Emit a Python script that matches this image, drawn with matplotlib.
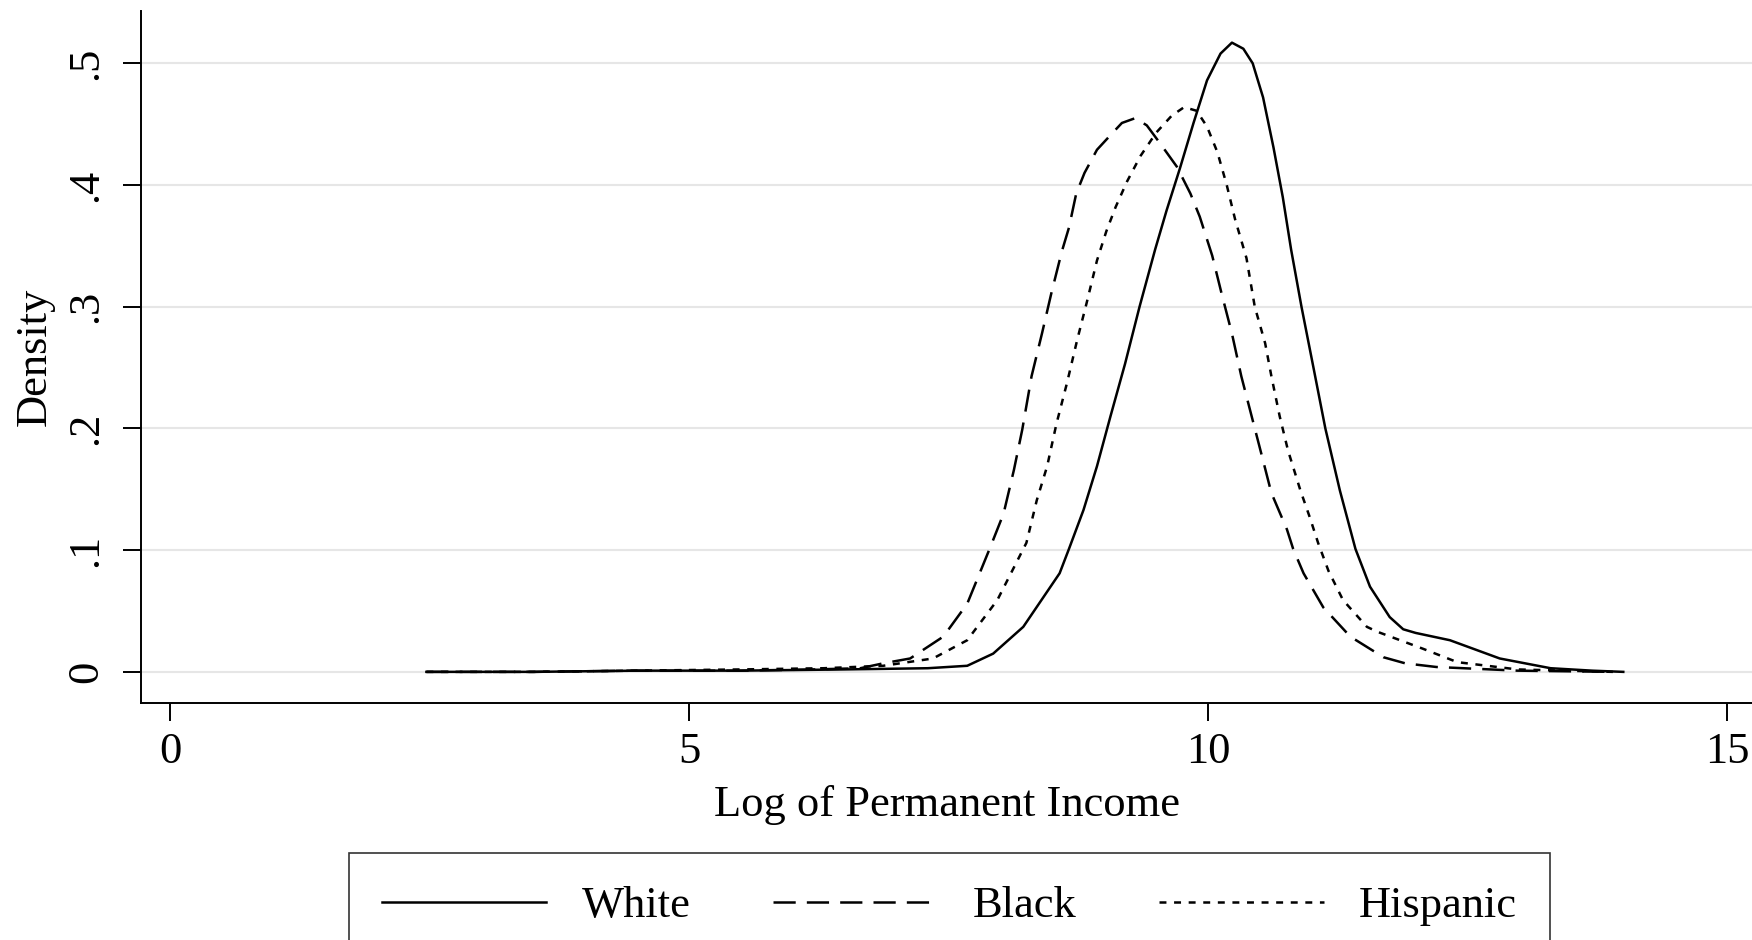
import matplotlib
matplotlib.use("Agg")
from matplotlib import pyplot as plt

plt.rcParams["font.family"] = ["Liberation Serif", "DejaVu Serif"]
plt.rcParams["lines.scale_dashes"] = False

# density curves
white_x = [2.47, 3.5, 4.5, 5.5, 6.5, 7.3, 7.68, 7.93, 8.22, 8.57, 8.66, 8.80, 8.93,
           9.06, 9.20, 9.34, 9.49, 9.60, 9.73, 9.86, 9.99, 10.12, 10.23, 10.34,
           10.43, 10.53, 10.63, 10.72, 10.80, 10.90, 11.02, 11.13, 11.27, 11.42,
           11.56, 11.75, 11.88, 12.0, 12.33, 12.81, 13.3, 13.7, 14.0]
white_y = [0.0, 0.0, 0.001, 0.001, 0.002, 0.003, 0.005, 0.015, 0.037, 0.081, 0.101,
           0.133, 0.169, 0.210, 0.253, 0.300, 0.347, 0.379, 0.414, 0.451, 0.486,
           0.508, 0.517, 0.512, 0.500, 0.472, 0.431, 0.390, 0.347, 0.300, 0.248,
           0.200, 0.149, 0.101, 0.070, 0.045, 0.035, 0.032, 0.026, 0.011, 0.003,
           0.001, 0.0]

black_x = [2.47, 3.5, 4.5, 5.5, 6.2, 6.65, 6.87, 7.13, 7.45, 7.68, 7.90, 8.03, 8.13,
           8.21, 8.30, 8.40, 8.49, 8.59, 8.66, 8.73, 8.81, 8.93, 9.06, 9.17, 9.30,
           9.41, 9.54, 9.70, 9.83, 9.92, 10.04, 10.13, 10.23, 10.32, 10.42, 10.52,
           10.61, 10.76, 10.82, 10.92, 11.11, 11.37, 11.69, 11.9, 12.2, 12.98, 13.9]
black_y = [0.0, 0.0, 0.001, 0.001, 0.002, 0.003, 0.007, 0.011, 0.029, 0.056, 0.102,
           0.130, 0.166, 0.199, 0.243, 0.278, 0.311, 0.345, 0.365, 0.393, 0.410,
           0.429, 0.441, 0.451, 0.455, 0.449, 0.434, 0.415, 0.393, 0.374, 0.342,
           0.311, 0.278, 0.243, 0.210, 0.177, 0.147, 0.117, 0.101, 0.081, 0.053,
           0.029, 0.012, 0.007, 0.004, 0.001, 0.0]

hisp_x = [2.47, 3.5, 4.5, 5.5, 6.3, 6.87, 7.35, 7.68, 7.97, 8.25, 8.35, 8.45, 8.54,
          8.64, 8.74, 8.83, 8.93, 9.02, 9.11, 9.22, 9.35, 9.50, 9.65, 9.77, 9.89,
          9.99, 10.09, 10.18, 10.26, 10.37, 10.45, 10.55, 10.61, 10.69, 10.77,
          10.89, 10.98, 11.06, 11.16, 11.30, 11.53, 11.63, 11.85, 12.07, 12.40,
          12.98, 13.9]
hisp_y = [0.0, 0.0, 0.001, 0.002, 0.003, 0.005, 0.011, 0.026, 0.059, 0.106, 0.141,
          0.169, 0.204, 0.237, 0.273, 0.303, 0.338, 0.362, 0.382, 0.403, 0.424,
          0.443, 0.457, 0.464, 0.461, 0.448, 0.427, 0.400, 0.372, 0.340, 0.300,
          0.270, 0.243, 0.210, 0.182, 0.149, 0.127, 0.106, 0.083, 0.059, 0.037,
          0.033, 0.026, 0.019, 0.008, 0.002, 0.0]

x_ticks = [0, 5, 10, 15]
y_ticks = [0, 0.1, 0.2, 0.3, 0.4, 0.5]
y_labels = ["0", ".1", ".2", ".3", ".4", ".5"]

fig = plt.figure(figsize=(17.52, 9.40), dpi=100)
ax = fig.add_axes([0.0805, 0.2521, 0.9195, 0.7362])

ax.plot(white_x, white_y, color="black", lw=1.8, label="White")
ax.plot(black_x, black_y, color="black", lw=1.8, dashes=(16, 8), label="Black")
ax.plot(hisp_x, hisp_y, color="black", lw=1.8, dashes=(5, 5.5), label="Hispanic")

ax.set_xlim(-0.279, 15.24)
ax.set_ylim(-0.0256, 0.543)
ax.set_xticks(x_ticks)
ax.set_yticks(y_ticks)
ax.set_yticklabels(y_labels, rotation=90, va="center")
ax.tick_params(axis="both", labelsize=32, length=13, width=1.4, color="black")
ax.tick_params(axis="y", pad=12)
ax.tick_params(axis="x", pad=8)

ax.grid(axis="y", color="#e6e6e6", lw=1.5)
ax.set_axisbelow(True)
for s in ["top", "right"]:
    ax.spines[s].set_visible(False)
for s in ["left", "bottom"]:
    ax.spines[s].set_linewidth(1.4)

ax.set_xlabel("Log of Permanent Income", fontsize=32, labelpad=9)
ax.set_ylabel("Density", fontsize=32, labelpad=8)

leg = fig.legend(loc="upper center", bbox_to_anchor=(0.542, 0.0926), ncol=3,
                 fontsize=32, frameon=True, fancybox=False, handlelength=3.7,
                 handletextpad=0.8, columnspacing=1.85, borderpad=0.75,
                 borderaxespad=0)
leg.get_frame().set_edgecolor("black")
leg.get_frame().set_linewidth(1.2)

fig.savefig("out.png", dpi=100)
